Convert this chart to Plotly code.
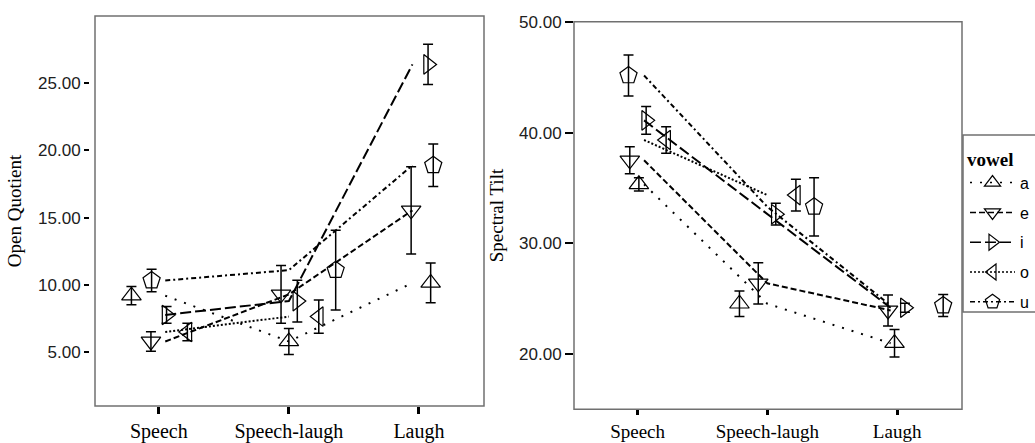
import plotly.graph_objects as go

# ---------------- data ----------------
categories = ["Speech", "Speech-laugh", "Laugh"]
vowels = ["a", "e", "i", "o", "u"]

# Open Quotient: means and standard errors per vowel (Speech, Speech-laugh, Laugh)
oq_a = [9.2, 5.8, 10.15]
oq_e = [5.8, 9.3, 15.55]
oq_i = [7.77, 8.8, 26.4]
oq_o = [6.5, 7.65, None]
oq_u = [10.33, 11.1, 18.9]
oq_a_se = [0.68, 0.97, 1.48]
oq_e_se = [0.72, 2.14, 3.24]
oq_i_se = [0.62, 1.55, 1.5]
oq_o_se = [0.65, 1.24, None]
oq_u_se = [0.83, 2.97, 1.58]

# Spectral Tilt
st_a = [35.33, 24.56, 21.0]
st_e = [37.5, 26.4, 23.96]
st_i = [41.1, 32.64, 24.2]
st_o = [39.33, 34.36, None]
st_u = [45.15, 33.3, 24.4]
st_a_se = [0.6, 1.16, 1.24]
st_e_se = [1.22, 1.86, 1.4]
st_i_se = [1.25, 0.98, 0.4]
st_o_se = [1.2, 1.43, None]
st_u_se = [1.85, 2.63, 1.0]

# cluster (dodge) offsets of the error-bar markers, in category units
oq_dx = {"a": [-0.21, 0.0, 0.09], "e": [-0.06, -0.06, -0.06], "i": [0.06, 0.065, 0.07],
         "o": [0.22, 0.23, 0.0], "u": [-0.055, 0.36, 0.11]}
st_dx = {"a": [0.01, -0.215, -0.02], "e": [-0.06, -0.07, -0.07], "i": [0.066, 0.065, 0.06],
         "o": [0.22, 0.22, 0.0], "u": [-0.07, 0.36, 0.355]}
line_dx = [0.05, 0.0, -0.05]

# ---------------- styles ----------------
symbols = {"a": "triangle-up-open", "e": "triangle-down-open", "i": "triangle-right-open",
           "o": "triangle-left-open", "u": "pentagon-open"}
sizes = {"a": 17, "e": 17, "i": 17, "o": 17, "u": 18}
dashes = {"a": "2px,8px", "e": "6px,3px", "i": "11px,4px", "o": "2px,2px", "u": "5px,3px,2px,3px"}

SERIF = "Liberation Serif"
SANS = "Liberation Sans"
W, H = 1035, 443

oq = {"a": (oq_a, oq_a_se), "e": (oq_e, oq_e_se), "i": (oq_i, oq_i_se),
      "o": (oq_o, oq_o_se), "u": (oq_u, oq_u_se)}
st = {"a": (st_a, st_a_se), "e": (st_e, st_e_se), "i": (st_i, st_i_se),
      "o": (st_o, st_o_se), "u": (st_u, st_u_se)}

fig = go.Figure()

# legend-only entries
for v in vowels:
    fig.add_trace(go.Scatter(
        x=[None], y=[None], name=v, mode="lines+markers", xaxis="x2", yaxis="y2",
        legendgroup=v,
        line=dict(color="black", width=1.5, dash=dashes[v]),
        marker=dict(symbol=symbols[v], size=sizes[v] - 3, color="black", line=dict(width=1.2, color="black")),
        showlegend=True))

for data, dx, xa, ya in [(oq, oq_dx, "x", "y"), (st, st_dx, "x2", "y2")]:
    for v in vowels:
        means, ses = data[v]
        idx = [k for k in range(3) if means[k] is not None]
        fig.add_trace(go.Scatter(
            x=[k + line_dx[k] for k in idx], y=[means[k] for k in idx],
            mode="lines", xaxis=xa, yaxis=ya, showlegend=False, hoverinfo="skip",
            legendgroup=v,
            line=dict(color="black", width=2, dash=dashes[v])))
        fig.add_trace(go.Scatter(
            x=[k + dx[v][k] for k in idx], y=[means[k] for k in idx],
            mode="markers", xaxis=xa, yaxis=ya, showlegend=False, name=v, legendgroup=v,
            marker=dict(symbol=symbols[v], size=sizes[v], color="black",
                        line=dict(width=1.2, color="black")),
            error_y=dict(type="data", array=[ses[k] for k in idx], visible=True,
                         color="black", thickness=1.5, width=5)))

frame_col = "#707070"
xcommon = dict(range=[-0.49, 2.5], tickmode="array", tickvals=[0, 1, 2], ticktext=categories,
               ticks="outside", tickwidth=2.5, tickcolor="black",
               showline=False, showgrid=False, zeroline=False)
ycommon = dict(ticks="outside", tickwidth=2, tickcolor="black", showline=False,
               showgrid=False, zeroline=False, tickformat=".2f",
               tickfont=dict(family=SANS, size=17, color="#202020"))

fig.update_layout(
    width=W, height=H,
    margin=dict(l=0, r=0, t=0, b=0, autoexpand=False),
    paper_bgcolor="white", plot_bgcolor="white",
    xaxis=dict(domain=[95 / W, 484 / W], anchor="y", ticklen=7,
               tickfont=dict(family=SERIF, size=20, color="black"), **xcommon),
    yaxis=dict(domain=[1 - 406 / H, 1 - 16 / H], range=[1, 30], tickvals=[5, 10, 15, 20, 25],
               anchor="free", position=89 / W, ticklen=5,
               title=dict(text="Open Quotient", font=dict(family=SERIF, size=19, color="black"), standoff=10),
               **ycommon),
    xaxis2=dict(domain=[574 / W, 962 / W], anchor="y2", ticklen=5,
                tickfont=dict(family=SERIF, size=19, color="black"), **xcommon),
    yaxis2=dict(domain=[1 - 409.3 / H, 1 - 21.7 / H], range=[15.04, 50], tickvals=[20, 30, 40, 50],
                anchor="x2", ticklen=8,
                title=dict(text="Spectral Tilt", font=dict(family=SERIF, size=19, color="black"), standoff=10),
                **ycommon),
    shapes=[
        dict(type="rect", xref="x domain", yref="y domain", x0=0, x1=1, y0=0, y1=1,
             line=dict(color=frame_col, width=1.5)),
        dict(type="rect", xref="x2 domain", yref="y2 domain", x0=0, x1=1, y0=0, y1=1,
             line=dict(color=frame_col, width=1.5)),
        # legend frame, running off the right edge as in the original
        dict(type="rect", xref="paper", yref="paper", x0=963 / W, x1=1.05,
             y0=1 - 312 / H, y1=1 - 135 / H, line=dict(color=frame_col, width=1.5), layer="above"),
    ],
    legend=dict(x=965 / W, y=1 - 141 / H, xanchor="left", yanchor="top",
                borderwidth=0, bgcolor="rgba(0,0,0,0)",
                font=dict(family=SANS, size=16, color="black"),
                title=dict(text="<b>vowel</b>", font=dict(family=SERIF, size=19, color="black")),
                itemwidth=45, tracegroupgap=6),
    showlegend=True,
)

fig.write_html("out.html")
